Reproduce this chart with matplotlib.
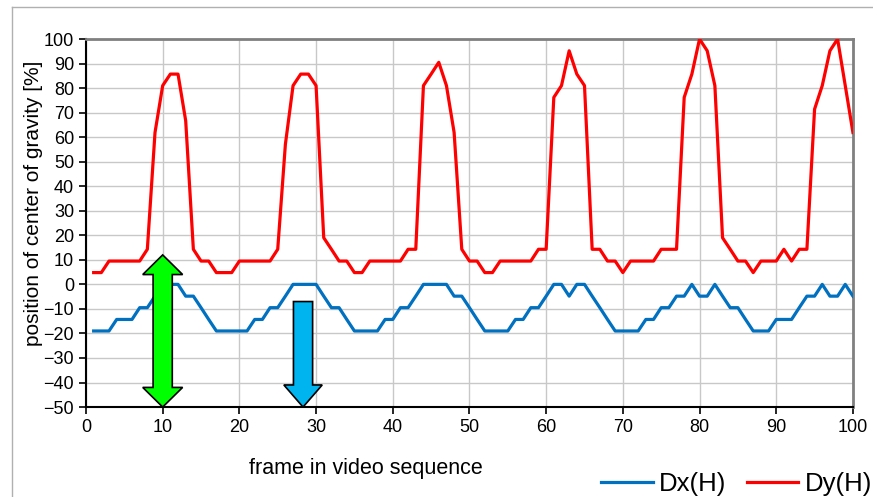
import matplotlib
matplotlib.use("Agg")
import matplotlib.pyplot as plt
from matplotlib.patches import Polygon
from matplotlib.lines import Line2D

plt.rcParams['font.family'] = ['Liberation Sans', 'DejaVu Sans']

# frame numbers and centre-of-gravity positions [%]
frames = list(range(1, 101))

dx_h = [-19.0, -19.0, -19.0, -14.3, -14.3, -14.3, -9.5, -9.5, -4.8, 0,
        0, 0, -4.8, -4.8, -9.5, -14.3, -19.0, -19.0, -19.0, -19.0,
        -19.0, -14.3, -14.3, -9.5, -9.5, -4.8, 0, 0, 0, 0,
        -4.8, -9.5, -9.5, -14.3, -19.0, -19.0, -19.0, -19.0, -14.3, -14.3,
        -9.5, -9.5, -4.8, 0, 0, 0, 0, -4.8, -4.8, -9.5,
        -14.3, -19.0, -19.0, -19.0, -19.0, -14.3, -14.3, -9.5, -9.5, -4.8,
        0, 0, -4.8, 0, 0, -4.8, -9.5, -14.3, -19.0, -19.0,
        -19.0, -19.0, -14.3, -14.3, -9.5, -9.5, -4.8, -4.8, 0, -4.8,
        -4.8, 0, -4.8, -9.5, -9.5, -14.3, -19.0, -19.0, -19.0, -14.3,
        -14.3, -14.3, -9.5, -4.8, -4.8, 0, -4.8, -4.8, 0, -4.8]

dy_h = [4.8, 4.8, 9.5, 9.5, 9.5, 9.5, 9.5, 14.3, 61.9, 81.0,
        85.7, 85.7, 66.7, 14.3, 9.5, 9.5, 4.8, 4.8, 4.8, 9.5,
        9.5, 9.5, 9.5, 9.5, 14.3, 57.1, 81.0, 85.7, 85.7, 81.0,
        19.0, 14.3, 9.5, 9.5, 4.8, 4.8, 9.5, 9.5, 9.5, 9.5,
        9.5, 14.3, 14.3, 81.0, 85.7, 90.5, 81.0, 61.9, 14.3, 9.5,
        9.5, 4.8, 4.8, 9.5, 9.5, 9.5, 9.5, 9.5, 14.3, 14.3,
        76.2, 81.0, 95.2, 85.7, 81.0, 14.3, 14.3, 9.5, 9.5, 4.8,
        9.5, 9.5, 9.5, 9.5, 14.3, 14.3, 14.3, 76.2, 85.7, 100,
        95.2, 81.0, 19.0, 14.3, 9.5, 9.5, 4.8, 9.5, 9.5, 9.5,
        14.3, 9.5, 14.3, 14.3, 71.4, 81.0, 95.2, 100, 81.0, 61.9]

# vertical arrows: (frame, top, bottom)
green_arrow = (10.0, 12.0, -50.0)
blue_arrow = (28.3, -7.0, -50.0)


def arrow_poly(xc, y_top, y_bot, shaft=1.25, head=2.6, head_len=8.0, double=False):
    if double:
        pts = [(xc, y_top), (xc + head, y_top - head_len), (xc + shaft, y_top - head_len)]
    else:
        pts = [(xc + shaft, y_top)]
    pts += [(xc + shaft, y_bot + head_len), (xc + head, y_bot + head_len), (xc, y_bot),
            (xc - head, y_bot + head_len), (xc - shaft, y_bot + head_len)]
    if double:
        pts += [(xc - shaft, y_top - head_len), (xc - head, y_top - head_len)]
    else:
        pts += [(xc - shaft, y_top)]
    return pts


fig = plt.figure(figsize=(8.73, 4.97), dpi=100)
ax = fig.add_axes([0.0985, 0.181, 0.8785, 0.7405])

ax.plot(frames, dx_h, color='#0070C0', lw=2.3, label='Dx(H)', zorder=3)
ax.plot(frames, dy_h, color='#FF0000', lw=2.3, label='Dy(H)', zorder=3)

gx, gt, gb = green_arrow
ax.add_patch(Polygon(arrow_poly(gx, gt, gb, double=True), closed=True,
                     facecolor='#00FF00', edgecolor='black', lw=1.2, zorder=5))
bx, bt, bb = blue_arrow
ax.add_patch(Polygon(arrow_poly(bx, bt, bb, head=2.5, head_len=9.0), closed=True,
                     facecolor='#00B4F0', edgecolor='black', lw=1.2, zorder=5))

ax.set_xlim(0, 100)
ax.set_ylim(-50, 100)
ax.set_xticks(range(0, 101, 10))
ax.set_yticks(range(-50, 101, 10))
ax.grid(True, color='#c8c8c8', lw=1.0, zorder=0)
ax.set_axisbelow(True)
ax.tick_params(labelsize=13, direction='out', length=5, width=1.2, color='black')

for side in ('top', 'right'):
    ax.spines[side].set_color('#808080')
    ax.spines[side].set_linewidth(2.0)
for side in ('left', 'bottom'):
    ax.spines[side].set_color('black')
    ax.spines[side].set_linewidth(1.5)

ax.set_xlabel('frame in video sequence', fontsize=15.5, va='center')
ax.xaxis.set_label_coords(0.365, -0.166)
ax.set_ylabel('position of center of gravity [%]', fontsize=15, va='center')
ax.yaxis.set_label_coords(-0.069, 0.554)

# outer chart frame
fig.add_artist(Line2D([0.014, 0.014], [0.0, 0.986], color='#b0b0b0', lw=1.0))
fig.add_artist(Line2D([0.014, 1.0], [0.986, 0.986], color='#b0b0b0', lw=1.0))

fig.legend(loc='center right', bbox_to_anchor=(0.999, 0.026), ncol=2, frameon=False,
           fontsize=18.5, handlelength=2.0, handletextpad=0.25, columnspacing=0.8,
           borderpad=0, borderaxespad=0)

fig.savefig('out.png', dpi=100)
